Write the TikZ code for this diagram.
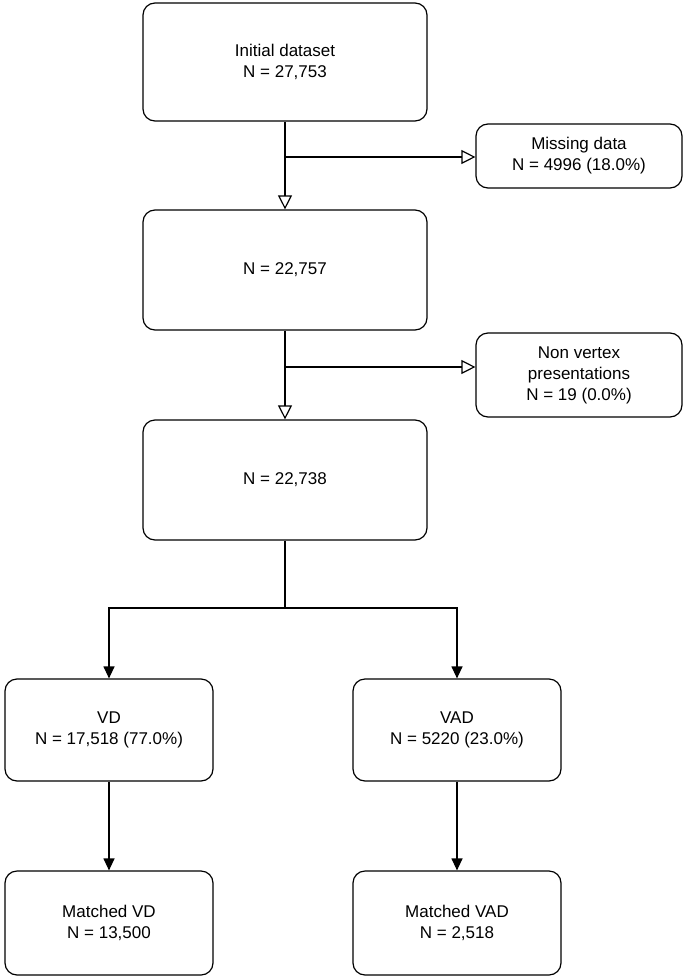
\documentclass[tikz,border=0pt]{standalone}
\usepackage{fontspec}
\setmainfont{Liberation Sans}
\usetikzlibrary{arrows.meta}
\begin{document}
\begin{tikzpicture}[x=1pt,y=-1pt,
  box/.style={draw,line width=1.2pt,rounded corners=12pt,align=center,font=\fontsize{17}{21}\selectfont,inner sep=0pt},
  open/.style={line width=1.2pt,-{Triangle[open,length=14pt,width=14pt]}},
  filled/.style={line width=1.2pt,-{Triangle[length=12pt,width=11pt]}}]
\useasboundingbox (0,0) rectangle (685,979);
\node[box,minimum width=284pt,minimum height=118pt] (a) at (285,62) {Initial dataset\\N = 27,753};
\node[box,minimum width=206pt,minimum height=64pt] (m) at (579,156) {Missing data\\N = 4996 (18.0\%)};
\node[box,minimum width=284pt,minimum height=120pt] (b) at (285,270) {N = 22,757};
\node[box,minimum width=206pt,minimum height=84pt] (nv) at (579,375) {Non vertex\\presentations\\N = 19 (0.0\%)};
\node[box,minimum width=284pt,minimum height=120pt] (c) at (285,480) {N = 22,738};
\node[box,minimum width=208pt,minimum height=102pt] (vd) at (109,730) {VD\\N = 17,518 (77.0\%)};
\node[box,minimum width=208pt,minimum height=102pt] (vad) at (457,730) {VAD\\N = 5220 (23.0\%)};
\node[box,minimum width=208pt,minimum height=104pt] (mvd) at (109,923) {Matched VD\\N = 13,500};
\node[box,minimum width=208pt,minimum height=104pt] (mvad) at (457,923) {Matched VAD\\N = 2,518};
\coordinate (j1) at (285,157);
\coordinate (j2) at (285,367);
\coordinate (s) at (285,608);
\draw[open] (a.south) -- (b.north);
\draw[open] (j1) -- (m.west |- j1);
\draw[open] (b.south) -- (c.north);
\draw[open] (j2) -- (nv.west |- j2);
\draw[line width=1.2pt] (c.south) -- (s);
\draw[filled] (s) -| (vd.north);
\draw[filled] (s) -| (vad.north);
\draw[filled] (vd.south) -- (mvd.north);
\draw[filled] (vad.south) -- (mvad.north);
\end{tikzpicture}
\end{document}
